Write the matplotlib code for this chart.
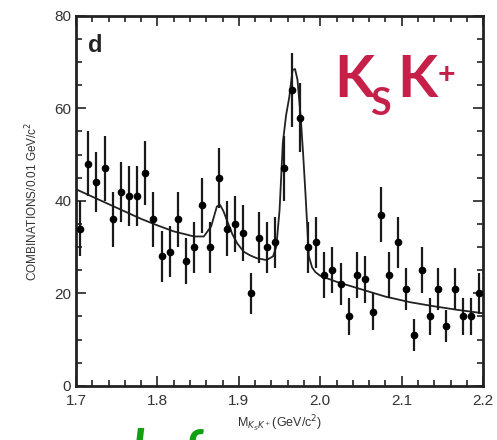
import numpy as np
import matplotlib.pyplot as plt

# K_S K+ invariant mass spectrum, 0.01 GeV/c^2 bins
mass = [1.705, 1.715, 1.725, 1.735, 1.745, 1.755, 1.765, 1.775, 1.785, 1.795,
        1.805, 1.815, 1.825, 1.835, 1.845, 1.855, 1.865, 1.875, 1.885, 1.895,
        1.905, 1.915, 1.925, 1.935, 1.945, 1.955, 1.965, 1.975, 1.985, 1.995,
        2.005, 2.015, 2.025, 2.035, 2.045, 2.055, 2.065, 2.075, 2.085, 2.095,
        2.105, 2.115, 2.125, 2.135, 2.145, 2.155, 2.165, 2.175, 2.185, 2.195]
counts = [34, 48, 44, 47, 36, 42, 41, 41, 46, 36,
          28, 29, 36, 27, 30, 39, 30, 45, 34, 35,
          33, 20, 32, 30, 31, 47, 64, 58, 30, 31,
          24, 25, 22, 15, 24, 23, 16, 37, 24, 31,
          21, 11, 25, 15, 21, 13, 21, 15, 15, 20]
errors = [6, 7, 6.5, 7, 6, 6.5, 6.5, 6.5, 7, 6,
          5.5, 5.5, 6, 5, 5.5, 6, 5.5, 6.5, 6, 6,
          6, 4.5, 5.5, 5.5, 5.5, 7, 8, 7.5, 5.5, 5.5,
          5, 5, 4.5, 4, 5, 5, 4, 6, 5, 5.5,
          4.5, 3.5, 5, 4, 4.5, 3.5, 4.5, 4, 4, 4.5]

# fitted curve: smooth background plus two resonance peaks
fit_m = [1.700, 1.720, 1.740, 1.760, 1.780, 1.800, 1.820, 1.845, 1.857, 1.866,
         1.873, 1.877, 1.881, 1.886, 1.892, 1.898, 1.906, 1.914, 1.922, 1.934,
         1.942, 1.946, 1.950, 1.954, 1.958, 1.962, 1.966, 1.969, 1.972, 1.976,
         1.979, 1.982, 1.986, 1.990, 1.994, 2.000, 2.020, 2.050, 2.080, 2.110,
         2.140, 2.170, 2.200]
fit_y = [42.5, 40.9, 39.3, 37.7, 36.1, 34.7, 33.4, 32.3, 32.3, 34.5,
         38.8, 39.1, 37.8, 35.5, 32.8, 30.8, 29.0, 28.2, 27.6, 27.2,
         28.0, 30.1, 38.0, 52.5, 58.5, 62.5, 68.3, 68.5, 66.2, 58.0,
         50.0, 41.0, 28.0, 25.6, 24.6, 23.8, 22.5, 20.9, 19.3, 18.1,
         17.2, 16.4, 15.7]

x_ticks = [1.7, 1.8, 1.9, 2.0, 2.1, 2.2]
x_ticklabels = ["1.7", "1.8", "1.9", "2.0", "2.1", "2.2"]
y_ticks = [0, 20, 40, 60, 80]

plt.rcParams["font.family"] = ["Liberation Sans", "DejaVu Sans"]

fig = plt.figure(figsize=(4.97, 4.40), dpi=100)
ax = fig.add_axes([0.153, 0.123, 0.819, 0.841])

ax.plot(fit_m, fit_y, color="#222222", lw=1.3, zorder=2)
ax.errorbar(mass, counts, yerr=errors, xerr=0.003, fmt="o", ms=4.5,
            color="black", ecolor="#1a1a1a", elinewidth=1.6, capsize=0,
            zorder=3)

ax.set_xlim(1.7, 2.2)
ax.set_ylim(0, 80)
ax.set_xticks(x_ticks)
ax.set_xticklabels(x_ticklabels)
ax.set_yticks(y_ticks)
ax.set_xticks(np.arange(1.7, 2.2001, 0.02), minor=True)
ax.set_yticks(np.arange(0, 80.01, 5), minor=True)
ax.tick_params(axis="both", which="both", direction="in", top=True, right=True,
               width=1.2, colors="#222222", labelsize=11, labelcolor="#333333")
ax.tick_params(axis="both", which="major", length=7)
ax.tick_params(axis="both", which="minor", length=4)
ax.tick_params(axis="x", pad=6)
for spine in ax.spines.values():
    spine.set_linewidth(2.0)
    spine.set_color("#222222")

ax.set_ylabel(r"COMBINATIONS/0.01 GeV/c$^2$", fontsize=8.5, color="#333333",
              labelpad=10)
ax.set_xlabel(r"M$_{K_S K^+}$(GeV/c$^2$)", fontsize=9, color="#333333",
              labelpad=4)

ax.text(0.03, 0.95, "d", transform=ax.transAxes, fontsize=17,
        fontweight="bold", va="top", color="#222222")

# hand-lettered channel name, built from separate pieces
red = "#C61F48"
hand = ["Lato", "DejaVu Sans"]
fig.text(0.672, 0.780, "K", fontsize=42, color=red, fontweight="bold",
         family=hand, va="baseline")
fig.text(0.744, 0.738, "S", fontsize=27, color=red, fontweight="bold",
         family=hand, va="baseline")
fig.text(0.800, 0.780, "K", fontsize=42, color=red, fontweight="bold",
         family=hand, va="baseline")
fig.text(0.880, 0.830, "+", fontsize=22, color=red, fontweight="bold",
         family=hand, va="center")

fig.text(0.12, -0.064, "and of", fontsize=38, color="#12a012",
         fontweight="bold", style="italic", family=hand, va="baseline")

fig.savefig("out.png", dpi=100)
